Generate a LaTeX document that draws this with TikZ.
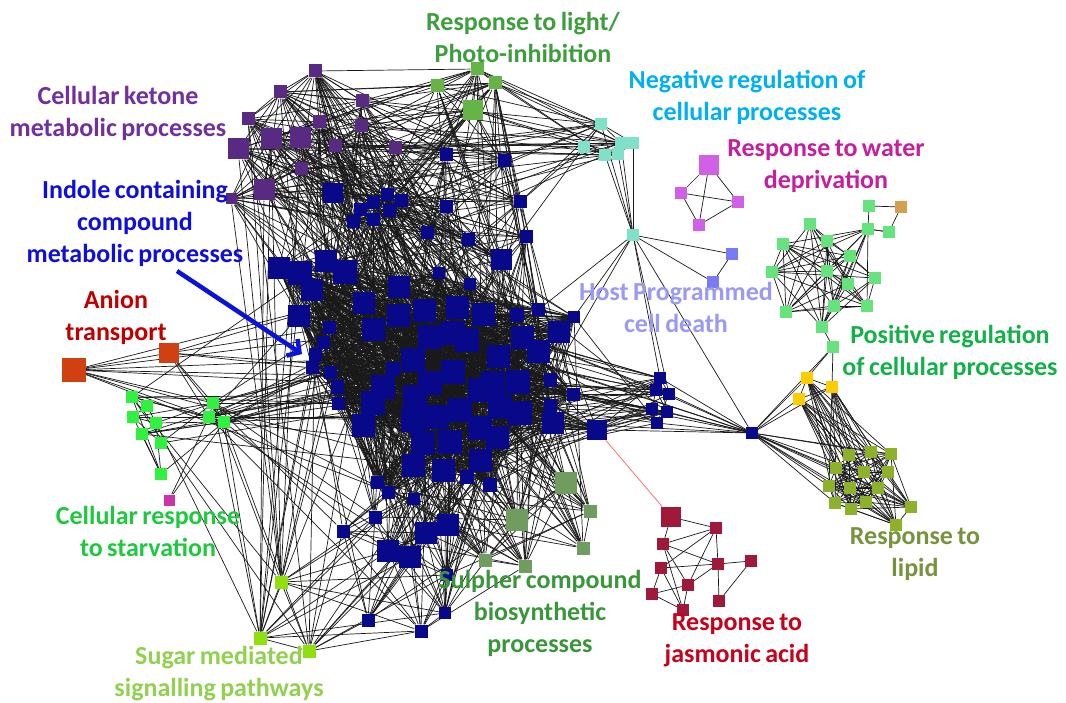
\documentclass[tikz,border=0pt]{standalone}
\usepackage{fontspec}
\setmainfont{Carlito}[WordSpace=0.75]
\usetikzlibrary{backgrounds,arrows.meta}
\definecolor{cP}{HTML}{582A82}
\definecolor{cL}{HTML}{66B348}
\definecolor{cNavy}{HTML}{08088A}
\colorlet{cU}{cNavy}\colorlet{cC}{cNavy}\colorlet{cD}{cNavy}\colorlet{cK}{cNavy}\colorlet{cV}{cNavy}\colorlet{cZ}{cNavy}
\definecolor{cS}{HTML}{709C60}
\definecolor{cG}{HTML}{90E010}
\definecolor{cA}{HTML}{D04010}
\definecolor{cT}{HTML}{30F040}\colorlet{cE}{cT}
\definecolor{cX}{HTML}{CC33AA}
\definecolor{cN}{HTML}{80E0C8}\colorlet{cB}{cN}
\definecolor{cW}{HTML}{D060E8}
\definecolor{cH}{HTML}{7A7AF5}
\definecolor{cQ}{HTML}{66E37C}\colorlet{cF}{cQ}\colorlet{cI}{cQ}
\definecolor{cJ}{HTML}{D4A050}
\definecolor{cY}{HTML}{FFCC00}
\definecolor{cO}{HTML}{8DB12B}
\definecolor{cR}{HTML}{A0193A}
% label colours
\definecolor{tLight}{HTML}{3E9E3E}
\definecolor{tKet}{HTML}{7030A0}
\definecolor{tNeg}{HTML}{00B0F0}
\definecolor{tWat}{HTML}{C4209C}
\definecolor{tInd}{HTML}{0F0FDD}
\definecolor{tAni}{HTML}{C00000}
\definecolor{tHost}{HTML}{9A9AF5}
\definecolor{tPos}{HTML}{14B04A}
\definecolor{tStv}{HTML}{20C840}
\definecolor{tSug}{HTML}{92D050}
\definecolor{tSul}{HTML}{3A963A}
\definecolor{tJas}{HTML}{C8001A}
\definecolor{tLip}{HTML}{77933C}
\definecolor{arrowblue}{HTML}{0A14D8}
\definecolor{rededge}{HTML}{FF7070}
\newcount\vcount
\def\addv#1#2#3#4#5{%
  \global\advance\vcount by 1
  \node[sq=#4, fill=c#5] (#1) at (#2,#3) {};%
  \expandafter\xdef\csname vn\the\vcount\endcsname{#1}%
  \expandafter\xdef\csname vg\the\vcount\endcsname{#5}%
}
\def\setpr#1#2#3{\expandafter\gdef\csname pr@#1@#2\endcsname{#3}\expandafter\gdef\csname pr@#2@#1\endcsname{#3}}
\tikzset{
  sq/.style={rectangle, inner sep=0pt, minimum size=#1pt, draw=none},
  edge/.style={draw=black!90, line width=0.7pt},
  lab/.style={font=\bfseries\fontsize{26}{32}\selectfont, align=center, inner sep=0pt},
}
\begin{document}
\begin{tikzpicture}[x=1pt,y=-1pt]
\useasboundingbox (0,0) rectangle (1066,703);
% ---------- nodes ----------
\foreach \nm/\x/\y/\s in {p1/315/71/13,p2/280/92/13,p3/362/101/13,p4/248/119/13,p5/319/122/13,p6/361/126/13,p7/271/139/21,p8/300/138/21,p9/238/149/21,p10/335/146/13,p11/395/148/13,p12/301/169/13,p13/264/190/21,p14/231/199/11}{\addv{\nm}{\x}{\y}{\s}{P}}
\foreach \nm/\x/\y/\s in {l1/477/69/13,l2/437/86/13,l3/495/83/13,l4/473/110/20}{\addv{\nm}{\x}{\y}{\s}{L}}
\foreach \nm/\x/\y/\s in {u1/446/155/13,u2/504/161/13,u3/333/193/20,u4/387/195/13,u5/373/203/13,u6/401/201/13,u7/360/210/13,u8/389/211/13,u9/353/222/13,u10/373/220/13,u11/446/207/13,u12/520/202/13,u13/427/233/13,u14/468/240/13,u15/526/237/13,u16/501/260/21}{\addv{\nm}{\x}{\y}{\s}{U}}
\foreach \nm/\x/\y/\s in {c1/279/268/22,c2/300/273/24,c3/326/261/22,c4/345/272/24,c5/312/290/22,c6/439/273/12,c7/470/284/12,c8/399/287/22,c9/364/303/22,c10/398/316/23,c11/424/311/23,c12/457/308/23,c13/483/315/23,c14/517/315/14,c15/538/310/13,c16/574/317/12,c17/299/316/22,c18/329/328/13,c19/373/330/23,c20/559/332/22,c21/538/352/23,c22/522/338/23,c23/498/357/23,c24/453/333/24,c25/467/340/24,c26/430/337/24,c27/413/360/24,c28/323/343/13,c29/315/355/13,c30/312/368/13,c31/330/373/13,c32/337/387/13,c33/338/403/13,c34/393/369/14,c35/383/387/24,c36/373/403/24,c37/363/425/23,c38/415/397/24,c39/430/383/24,c40/453/372/24,c41/480/390/24,c42/493/383/24,c43/518/382/24,c44/550/380/13,c45/573/394/13,c46/550/405/13,c47/553/423/22,c48/520/413/24,c49/500/407/24,c50/460/410/24,c51/437/417/24,c52/413/420/24,c53/423/443/24,c54/450/442/24,c55/480/428/24,c56/497/437/23,c57/480/460/23,c58/443/470/23,c59/413/465/23,c60/467/477/14,c61/490/485/14,c62/377/482/13,c63/388/492/13}{\addv{\nm}{\x}{\y}{\s}{C}}
\foreach \nm/\x/\y/\s in {d1/414/499/12,d2/375/517/13,d3/343/531/13,d4/426/533/22,d5/448/525/22,d6/388/551/22,d7/410/557/22,d8/447/575/12,d9/445/613/12,d10/368/620/13,d11/421/631/13}{\addv{\nm}{\x}{\y}{\s}{D}}
\foreach \nm/\x/\y/\s in {s1/566/483/22,s2/517/520/22,s3/590/511/13,s4/583/548/13,s5/485/560/13,s6/525/566/13}{\addv{\nm}{\x}{\y}{\s}{S}}
\foreach \nm/\x/\y/\s in {g1/281/582/13,g2/260/638/13,g3/309/651/13}{\addv{\nm}{\x}{\y}{\s}{G}}
\foreach \nm/\x/\y/\s in {k1/660/378/12,k2/656/390/12,k3/669/394/12,k4/652/409/12,k5/667/412/12,k6/657/423/12}{\addv{\nm}{\x}{\y}{\s}{K}}
\addv{v1}{597}{430}{20}{V}
\foreach \nm/\x/\y/\s in {a1/74/370/24,a2/169/353/20}{\addv{\nm}{\x}{\y}{\s}{A}}
\foreach \nm/\x/\y/\s in {t1/132/397/12,t2/147/406/12,t3/133/417/12,t4/156/423/12,t5/142/434/12,t6/161/443/12,t7/161/474/12}{\addv{\nm}{\x}{\y}{\s}{T}}
\foreach \nm/\x/\y/\s in {e1/213/403/12,e2/209/417/12,e3/224/422/12}{\addv{\nm}{\x}{\y}{\s}{E}}
\addv{x1}{169}{500}{11}{X}
\foreach \nm/\x/\y/\s in {n1/601/124/12,n2/584/147/12,n3/605/155/12,n4/618/154/12,n5/621/143/12,n6/633/143/12}{\addv{\nm}{\x}{\y}{\s}{N}}
\addv{n7}{633}{235}{12}{B}
\foreach \nm/\x/\y/\s in {w1/709/165/20,w2/681/193/12,w3/738/202/12,w4/699/225/12}{\addv{\nm}{\x}{\y}{\s}{W}}
\foreach \nm/\x/\y/\s in {h1/732/254/12,h2/713/282/12}{\addv{\nm}{\x}{\y}{\s}{H}}
\foreach \nm/\x/\y/\s in {q2/868/229/12,q4/810/224/12,q5/827/241/12,q6/783/244/12,q7/850/256/12,q8/772/272/12,q9/827/271/12,q10/848/284/12,q11/875/278/12,q12/834/306/12,q13/867/306/12,q14/786/312/12,q15/822/327/12}{\addv{\nm}{\x}{\y}{\s}{Q}}
\foreach \nm/\x/\y/\s in {q1/869/206/12,q3/889/232/12}{\addv{\nm}{\x}{\y}{\s}{F}}
\addv{tan}{901}{207}{12}{J}
\addv{q16}{833}{347}{12}{I}
\foreach \nm/\x/\y/\s in {y1/807/378/12,y2/832/387/12,y3/799/399/12}{\addv{\nm}{\x}{\y}{\s}{Y}}
\addv{hub}{752}{433}{12}{Z}
\foreach \nm/\x/\y/\s in {o1/849/455/12,o2/871/452/12,o3/891/454/12,o4/836/468/12,o5/864/472/12,o6/888/472/12,o7/829/486/12,o8/850/488/12,o9/878/488/12,o10/835/503/12,o11/866/502/12,o12/851/509/12,o13/911/507/12,o14/896/525/12}{\addv{\nm}{\x}{\y}{\s}{O}}
\foreach \nm/\x/\y/\s in {r1/671/517/20,r2/716/528/12,r3/663/544/12,r4/661/568/12,r5/718/564/12,r6/751/561/12,r7/688/585/12,r8/652/594/12,r9/719/601/12,r10/683/610/12}{\addv{\nm}{\x}{\y}{\s}{R}}
% ---------- edge probabilities ----------
\setpr{P}{P}{0.4}\setpr{P}{L}{0.3}\setpr{P}{U}{0.3}\setpr{P}{C}{0.08}\setpr{P}{N}{0.15}\setpr{P}{D}{0.03}\setpr{P}{G}{0.25}\setpr{P}{S}{0.02}
\setpr{L}{L}{1}\setpr{L}{U}{0.35}\setpr{L}{C}{0.05}\setpr{L}{N}{0.5}\setpr{L}{S}{0.05}
\setpr{U}{U}{0.3}\setpr{U}{C}{0.1}\setpr{U}{N}{0.12}\setpr{U}{D}{0.03}\setpr{U}{S}{0.05}
\setpr{C}{C}{0.5}\setpr{C}{D}{0.1}\setpr{C}{S}{0.18}\setpr{C}{K}{0.1}\setpr{C}{V}{0.2}\setpr{C}{A}{0.1}\setpr{C}{E}{0.12}\setpr{C}{T}{0.02}\setpr{C}{Z}{0.05}\setpr{C}{G}{0.03}
\setpr{D}{D}{0.35}\setpr{D}{G}{0.6}\setpr{D}{S}{0.12}\setpr{D}{E}{0.1}
\setpr{S}{S}{0.5}
\setpr{G}{G}{1}\setpr{G}{E}{0.6}\setpr{G}{T}{0.08}
\setpr{A}{A}{1}\setpr{A}{T}{0.2}\setpr{A}{E}{0.6}
\setpr{T}{T}{0.5}\setpr{T}{E}{0.25}\setpr{E}{E}{1}
\setpr{K}{K}{0.6}\setpr{K}{Z}{1}\setpr{K}{V}{0.3}
\setpr{N}{N}{0.8}
\setpr{Q}{Q}{0.7}\setpr{F}{Q}{0.15}
\setpr{Y}{Y}{1}\setpr{Y}{O}{0.8}\setpr{O}{O}{0.8}\setpr{Z}{O}{0.9}\setpr{Z}{Y}{1}
% ---------- edges ----------
\begin{pgfonlayer}{background}
\fill[white] (0,0) rectangle (1066,703);
\pgfmathsetseed{4242}
\edef\NV{\the\vcount}
\foreach \i in {1,...,\NV}{%
  \foreach \j in {\i,...,\NV}{%
    \ifnum\j>\i\relax
      \edef\ga{\csname vg\i\endcsname}\edef\gb{\csname vg\j\endcsname}%
      \ifcsname pr@\ga @\gb\endcsname
        \pgfmathsetmacro\rr{rnd}%
        \edef\pp{\csname pr@\ga @\gb\endcsname}%
        \ifdim\rr pt<\pp pt\relax
          \edef\na{\csname vn\i\endcsname}\edef\nb{\csname vn\j\endcsname}%
          \draw[edge] (\na) -- (\nb);
        \fi
      \fi
    \fi
  }%
}
\foreach \a/\b in {n7/n1,n7/n3,n7/n4,n7/n5,n7/n6,n7/h1,n7/h2,h1/h2,n7/k1,n7/k3,n7/hub,n7/c16,n7/c15,n7/c44,
  w1/w2,w1/w3,w1/w4,w2/w3,w2/w4,w3/w4,
  q1/tan,tan/q3,q1/q2,q2/q3,q15/q16,q16/y1,q16/y2,hub/q16,
  x1/e2,x1/e3,
  r1/r2,r1/r3,r3/r2,r3/r5,r4/r5,r4/r2,r7/r2,r7/r5,r7/r3,r8/r4,r8/r7,r8/r10,r4/r10,r10/r7,r5/r6,r5/r9,r6/r9,r2/r5,r3/r10}{\draw[edge] (\a) -- (\b);}
\draw[rededge, line width=0.8pt] (v1) -- (r1);
\end{pgfonlayer}
% ---------- arrow ----------
\coordinate (arS) at (177,271);
\coordinate (arE) at (302,354);
\draw[arrowblue, line width=4.5pt, -{Straight Barb[length=9pt,width=20pt]}] (arS) -- (arE);
% ---------- labels ----------
\node[lab, text=tLight] (Llight) at (523,37) {Response to light/\\Photo-inhibition};
\node[lab, text=tKet] (Lket) at (118,113) {Cellular ketone\\metabolic processes};
\node[lab, text=tNeg] (Lneg) at (747,97) {Negative regulation of\\cellular processes};
\node[lab, text=tWat] (Lwat) at (826,166) {Response to water\\deprivation};
\node[lab, text=tInd] (Lind) at (135,223) {Indole containing\\compound\\metabolic processes};
\node[lab, text=tAni] (Lani) at (116,317) {Anion\\transport};
\node[lab, text=tHost] (Lhost) at (676,307) {Host Programmed\\cell death};
\node[lab, text=tPos] (Lpos) at (950,352) {Positive regulation\\of cellular processes};
\node[lab, text=tStv] (Lstv) at (148,531) {Cellular response\\to starvation};
\node[lab, text=tSug] (Lsug) at (219,674) {Sugar mediated\\signalling pathways};
\node[lab, text=tSul] (Lsul) at (540,613) {Sulpher compound\\biosynthetic\\processes};
\node[lab, text=tJas] (Ljas) at (737,640) {Response to\\jasmonic acid};
\node[lab, text=tLip] (Llip) at (915,554) {Response to\\lipid};
\end{tikzpicture}
\end{document}
